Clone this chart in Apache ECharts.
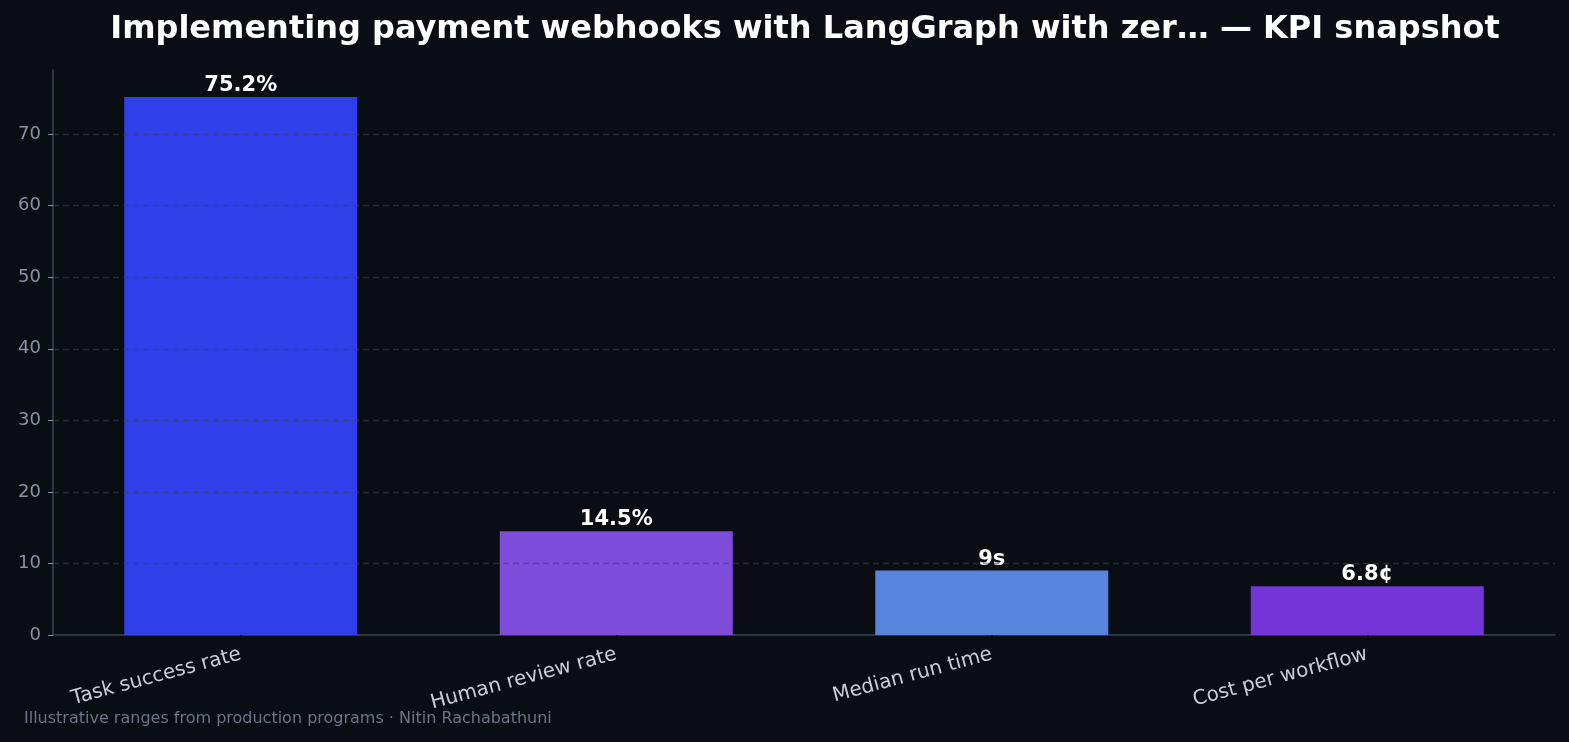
<!DOCTYPE html>
<html>
<head>
<meta charset="utf-8">
<script src="https://cdn.jsdelivr.net/npm/echarts@6/dist/echarts.min.js"></script>
<style>
  html,body{margin:0;padding:0;background:#0a0d14;}
  #main{width:1569px;height:742px;}
</style>
</head>
<body>
<div id="main"></div>
<script>
	// data
	let categories=['Task success rate','Human review rate','Median run time','Cost per workflow'];
	let values=[75.2,14.5,9,6.8];
	let valueLabels=['75.2%','14.5%','9s','6.8¢'];
	let barColors=['#2f3fea','#7e4cdb','#5784dd','#7435d8'];
	let yTicks=[0,10,20,30,40,50,60,70];

	let font='DejaVu Sans';
	let myChart=echarts.init(document.getElementById('main'));

	//网格线画在柱子上面,用markLine
	let gridLines=yTicks.filter(function(v){return v>0;}).map(function(v){return {yAxis:v};});

	myChart.setOption({
		backgroundColor:'#0a0d14',
		animation:false,
		title:{
			text:'Implementing payment webhooks with LangGraph with zer… — KPI snapshot',
			left:800,
			textAlign:'center',
			top:9,
			textStyle:{color:'#ffffff',fontSize:32,fontWeight:'bold',fontFamily:font}
		},
		graphic:[{
			type:'text',
			left:24,
			top:711,
			style:{text:'Illustrative ranges from production programs · Nitin Rachabathuni',fill:'#6b7489',fontSize:16,fontFamily:font}
		}],
		grid:{left:53,right:14,top:70,bottom:107},
		xAxis:{
			type:'category',
			data:categories,
			axisLine:{show:true,lineStyle:{color:'#3a4456',width:1.5}},
			axisTick:{show:true,alignWithLabel:true,length:5,lineStyle:{color:'#05070b',width:1.5}},
			axisLabel:{color:'#c8cdd8',fontSize:20,fontFamily:font,rotate:15,margin:19}
		},
		yAxis:{
			type:'value',
			min:0,
			max:78.96,
			interval:10,
			axisLine:{show:true,lineStyle:{color:'#3a4456',width:1.5}},
			axisTick:{show:true,length:5,lineStyle:{color:'#8892a6'}},
			axisLabel:{
				color:'#8892a6',fontSize:18,fontFamily:font,margin:12,showMaxLabel:false,
				formatter:function(v){return yTicks.indexOf(v)>=0?String(v):'';}
			},
			splitLine:{show:false}
		},
		series:[{
			type:'bar',
			barWidth:233,
			data:values.map(function(v,i){
				return {value:v,itemStyle:{color:barColors[i]}};
			}),
			label:{
				show:true,
				position:'top',
				distance:1,
				color:'#ffffff',
				fontSize:21,
				fontWeight:'bold',
				fontFamily:font,
				formatter:function(p){return valueLabels[p.dataIndex];}
			},
			markLine:{
				silent:true,
				symbol:'none',
				label:{show:false},
				lineStyle:{color:'rgba(58,66,86,0.55)',type:[6,4],width:1.3},
				data:gridLines
			}
		}]
	});
</script>
</body>
</html>
